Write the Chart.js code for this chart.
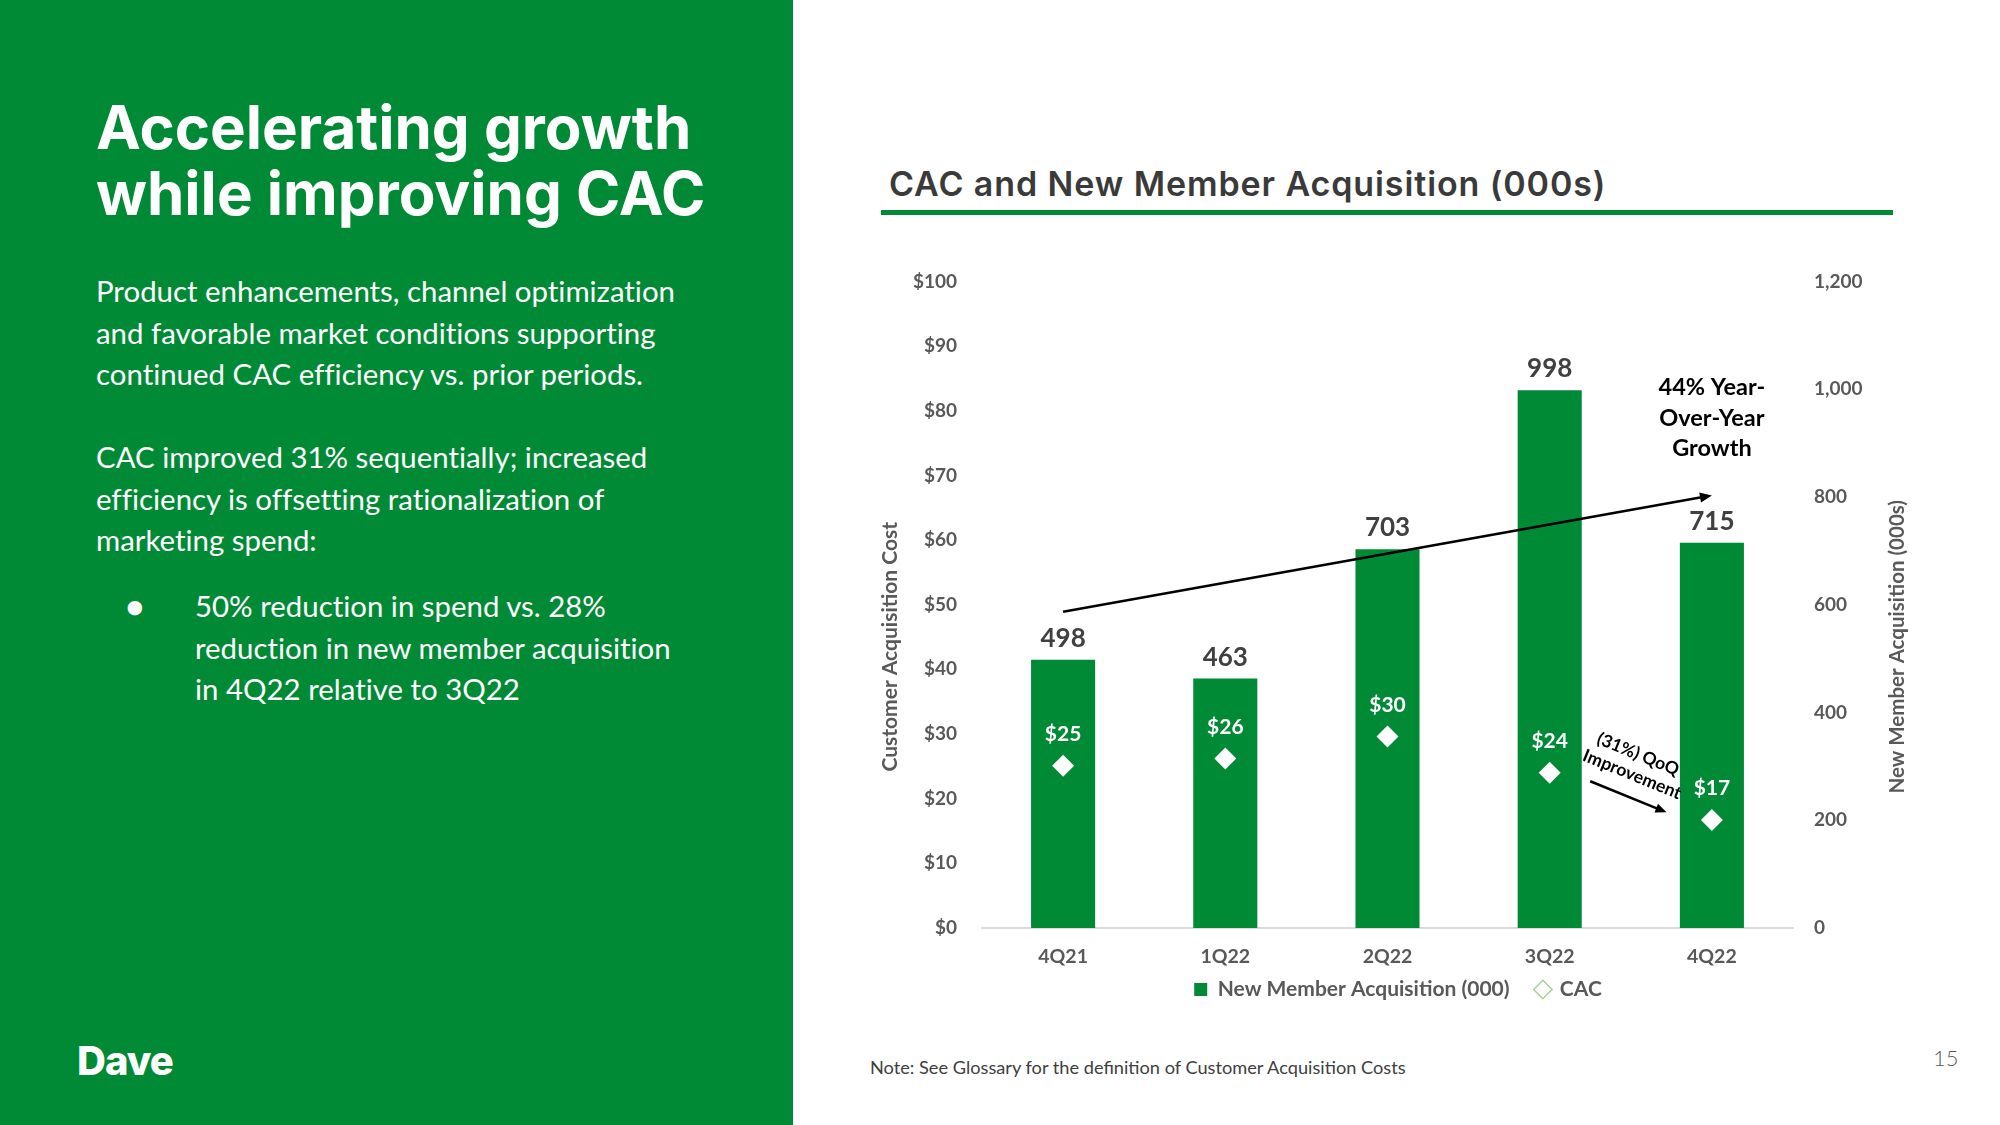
<!DOCTYPE html>
<html>
<head>
<meta charset="utf-8">
<title>CAC and New Member Acquisition</title>
<script src="https://cdn.jsdelivr.net/npm/chart.js@4.4.0/dist/chart.umd.min.js"></script>
<style>
  body { margin: 0; width: 2000px; height: 1125px; position: relative; overflow: hidden; background: #fff; font-family: Lato, sans-serif; }
  #panel { position: absolute; left: 0; top: 0; width: 793px; height: 1125px; background: #018a36; color: #fff; }
  #panel h1 { position: absolute; left: 96px; top: 94px; margin: 0; font-family: Inter, sans-serif; font-weight: 700; font-size: 60px; line-height: 66px; }
  #panel p { position: absolute; left: 96px; margin: 0; font-size: 29.4px; line-height: 41.5px; white-space: nowrap; font-feature-settings: "liga" 0; }
  #panel .dot { left: 126px; }
  #panel .bullet { left: 195px; }
  #logo { position: absolute; left: 77px; top: 1036px; font-family: Inter, sans-serif; font-weight: 800; font-size: 40px; letter-spacing: -1px; }
  #chartTitle { position: absolute; left: 889px; top: 163px; font-family: Inter, sans-serif; font-weight: 600; font-size: 34px; letter-spacing: 0.9px; color: #3a3a3a; white-space: nowrap; }
  #rule { position: absolute; left: 881px; top: 210px; width: 1012px; height: 5px; background: #018a36; }
  #note { position: absolute; left: 870px; top: 1056px; font-size: 18.2px; color: #404040; white-space: nowrap; }
  #page { position: absolute; left: 1933px; top: 1044px; font-size: 22px; font-weight: 300; color: #595959; }
  #wrap { position: absolute; left: 870px; top: 245px; width: 1080px; height: 770px; }
</style>
</head>
<body>
<div id="panel">
  <h1>Accelerating growth<br>while improving CAC</h1>
  <p style="top:270px">Product enhancements, channel optimization<br>and favorable market conditions supporting<br>continued CAC efficiency vs. prior periods.</p>
  <p style="top:436px">CAC improved 31% sequentially; increased<br>efficiency is offsetting rationalization of<br>marketing spend:</p>
  <p class="dot" style="top:585px">●</p>
  <p class="bullet" style="top:585px">50% reduction in spend vs. 28%<br>reduction in new member acquisition<br>in 4Q22 relative to 3Q22</p>
  <div id="logo">Dave</div>
</div>
<div id="chartTitle">CAC and New Member Acquisition (000s)</div>
<div id="rule"></div>
<div id="wrap"><canvas id="cacChart"></canvas></div>
<div id="note">Note: See Glossary for the definition of Customer Acquisition Costs</div>
<div id="page">15</div>

<script>
// chart data
const quarters = ['4Q21', '1Q22', '2Q22', '3Q22', '4Q22'];
const newMembers = [498, 463, 703, 998, 715];        // 000s, right axis
const cac = [25.1, 26.2, 29.6, 24.0, 16.7];          // $, left axis
const cacTicks = [0, 100, 10];                       // min, max, step
const memberTicks = [0, 1200, 200];

// annotations, in axis units (category index, left-axis $)
const growthArrow = [[0, 48.9], [4, 66.9]];
const growthText = ['44% Year-', 'Over-Year', 'Growth'];
const qoqArrow = [[3.25, 22.7], [3.72, 17.9]];
const qoqText = ['(31%) QoQ', 'Improvement'];

const green = '#018a36';
const gray = '#595959';

function drawArrow(ctx, x1, y1, x2, y2, head) {
    const ang = Math.atan2(y2 - y1, x2 - x1);
    ctx.beginPath();
    ctx.moveTo(x1, y1);
    ctx.lineTo(x2 - Math.cos(ang) * head * 0.6, y2 - Math.sin(ang) * head * 0.6);
    ctx.stroke();
    ctx.beginPath();
    ctx.moveTo(x2, y2);
    ctx.lineTo(x2 - head * Math.cos(ang - 0.4), y2 - head * Math.sin(ang - 0.4));
    ctx.lineTo(x2 - head * Math.cos(ang + 0.4), y2 - head * Math.sin(ang + 0.4));
    ctx.closePath();
    ctx.fill();
}

// value labels, axis titles and arrows
const extras = {
    id: 'extras',
    afterDatasetsDraw(chart) {
        const { ctx, chartArea, scales } = chart;
        ctx.save();
        ctx.textAlign = 'center';
        ctx.textBaseline = 'alphabetic';

        // bar labels
        ctx.font = 'bold 26px Lato';
        ctx.fillStyle = '#404040';
        chart.getDatasetMeta(1).data.forEach((bar, i) => {
            ctx.fillText(newMembers[i], bar.x, bar.y - 13);
        });

        // CAC labels
        ctx.font = 'bold 21px Lato';
        ctx.fillStyle = '#fff';
        chart.getDatasetMeta(0).data.forEach((pt, i) => {
            ctx.fillText('$' + Math.round(cac[i]), pt.x, pt.y - 25);
        });

        // growth arrow
        const px = v => scales.x.getPixelForValue(v);
        const py = v => scales.y.getPixelForValue(v);
        ctx.strokeStyle = '#000';
        ctx.fillStyle = '#000';
        ctx.lineWidth = 2.5;
        const gx2 = px(growthArrow[1][0]), gy2 = py(growthArrow[1][1]);
        drawArrow(ctx, px(growthArrow[0][0]), py(growthArrow[0][1]), gx2, gy2, 13);
        ctx.font = 'bold 23.5px Lato';
        ctx.textBaseline = 'middle';
        growthText.forEach((t, i) => {
            ctx.fillText(t, gx2, gy2 - 108 + i * 30.5);
        });

        // QoQ arrow
        const qx1 = px(qoqArrow[0][0]), qy1 = py(qoqArrow[0][1]);
        const qx2 = px(qoqArrow[1][0]), qy2 = py(qoqArrow[1][1]);
        ctx.lineWidth = 2.5;
        drawArrow(ctx, qx1, qy1, qx2, qy2, 12);
        ctx.translate((qx1 + qx2) / 2, (qy1 + qy2) / 2);
        ctx.rotate(Math.atan2(qy2 - qy1, qx2 - qx1));
        ctx.font = 'bold 17.5px Lato';
        ctx.fillText(qoqText[0], -7, -43);
        ctx.fillText(qoqText[1], -5, -22);
        ctx.restore();

        // axis titles
        ctx.save();
        ctx.font = 'bold 21px Lato';
        ctx.fillStyle = gray;
        ctx.textAlign = 'center';
        ctx.textBaseline = 'middle';
        const cy = chartArea.top + chartArea.height * 0.565;
        ctx.save();
        ctx.translate(scales.y.left + 20, cy);
        ctx.rotate(-Math.PI / 2);
        ctx.fillText('Customer Acquisition Cost', 0, 0);
        ctx.restore();
        ctx.font = 'bold 20.5px Lato';
        ctx.translate(scales.yR.right - 29, cy);
        ctx.rotate(-Math.PI / 2);
        ctx.fillText('New Member Acquisition (000s)', 0, 0);
        ctx.restore();
    }
};

const ctx = document.getElementById('cacChart').getContext('2d');
new Chart(ctx, {
    data: {
        labels: quarters,
        datasets: [
            {
                type: 'line',
                label: 'CAC',
                data: cac,
                yAxisID: 'y',
                showLine: false,
                pointStyle: 'rectRot',
                pointRadius: 11,
                pointBackgroundColor: '#fff',
                pointBorderColor: '#fff',
                pointBorderWidth: 0
            },
            {
                type: 'bar',
                label: 'New Member Acquisition (000)',
                data: newMembers,
                yAxisID: 'yR',
                backgroundColor: green,
                barPercentage: 0.395,
                categoryPercentage: 1
            }
        ]
    },
    options: {
        responsive: true,
        maintainAspectRatio: false,
        animation: false,
        // top edge comes from the left axis label height + tick padding
        layout: { padding: { top: 0, left: 0, right: 24, bottom: 5 } },
        plugins: {
            tooltip: { enabled: false },
            legend: {
                position: 'bottom',
                labels: {
                    usePointStyle: true,
                    boxWidth: 13,
                    boxHeight: 13,
                    padding: 6,
                    color: gray,
                    font: { family: 'Lato', weight: 'bold', size: 21 },
                    generateLabels: () => [
                        { text: 'New Member Acquisition (000)\u2003 ', pointStyle: 'rect', fillStyle: green, strokeStyle: green, lineWidth: 0, fontColor: gray, datasetIndex: 1 },
                        { text: 'CAC', pointStyle: 'rectRot', fillStyle: '#fff', strokeStyle: '#a9d18e', lineWidth: 1.5, fontColor: gray, datasetIndex: 0 }
                    ]
                }
            }
        },
        scales: {
            x: {
                grid: { display: false, drawTicks: false },
                border: { display: true, color: '#d9d9d9', width: 2 },
                ticks: { color: gray, padding: 17, font: { family: 'Lato', weight: 'bold', size: 19.5 } },
                afterFit: s => { s.height = 45; }
            },
            y: {
                position: 'left',
                min: cacTicks[0],
                max: cacTicks[1],
                grid: { display: false, drawTicks: false },
                border: { display: false },
                ticks: {
                    stepSize: cacTicks[2],
                    padding: 25,
                    color: gray,
                    font: { family: 'Lato', weight: 'bold', size: 19 },
                    callback: v => '$' + v
                },
                afterFit: s => { s.width = 112; }
            },
            yR: {
                position: 'right',
                min: memberTicks[0],
                max: memberTicks[1],
                grid: { display: false, drawTicks: false },
                border: { display: false },
                ticks: {
                    stepSize: memberTicks[2],
                    padding: 21,
                    color: gray,
                    font: { family: 'Lato', weight: 'bold', size: 19 },
                    callback: v => v.toLocaleString('en-US')
                },
                afterFit: s => { s.width = 133; }
            }
        }
    },
    plugins: [extras]
});
</script>
</body>
</html>
